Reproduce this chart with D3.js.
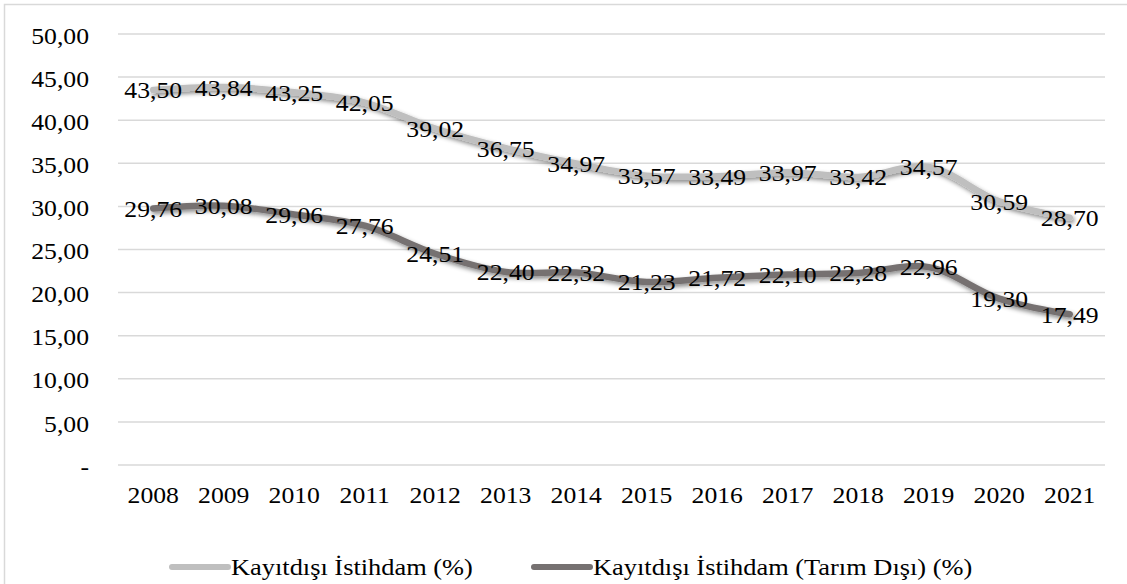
<!DOCTYPE html>
<html><head><meta charset="utf-8">
<script src="https://cdn.jsdelivr.net/npm/d3@7"></script>
<style>
html,body{margin:0;padding:0;background:#fff;}
svg{display:block;}
</style></head>
<body>
<svg id="chart" width="1127" height="584"></svg>
<script>
const years = ["2008","2009","2010","2011","2012","2013","2014","2015","2016","2017","2018","2019","2020","2021"];
const kayitdisi = [43.50,43.84,43.25,42.05,39.02,36.75,34.97,33.57,33.49,33.97,33.42,34.57,30.59,28.70];
const tarimDisi = [29.76,30.08,29.06,27.76,24.51,22.40,22.32,21.23,21.72,22.10,22.28,22.96,19.30,17.49];
const yTicks = [0,5,10,15,20,25,30,35,40,45,50];
const seriesNames = ["Kayıtdışı İstihdam (%)","Kayıtdışı İstihdam (Tarım Dışı) (%)"];

const FONT = '"Liberation Serif", "Times New Roman"';
const SX = 1.07; // horizontal stretch of the reference's glyphs
const svg = d3.select("#chart");
const W = 1127, H = 584;
const plot = {left:118, right:1105, top:34, bottom:465};
const FS = 24;

svg.append("rect").attr("x",4.5).attr("y",4.5).attr("width",W+10).attr("height",H+10)
  .attr("fill","#fff").attr("stroke","#d9d9d9").attr("stroke-width",1.5);

const defs = svg.append("defs");
const f = defs.append("filter").attr("id","shadow").attr("x","-10%").attr("y","-30%").attr("width","120%").attr("height","160%");
f.append("feDropShadow").attr("dx",1.5).attr("dy",2.5).attr("stdDeviation",2).attr("flood-color","#000").attr("flood-opacity",0.45);

const x = d3.scaleBand().domain(years).range([plot.left, plot.right]);
const y = d3.scaleLinear().domain([0,50]).range([plot.bottom, plot.top]);
const fmt = v => v === 0 ? "-" : v.toFixed(2).replace(".", ",");

svg.append("g").selectAll("line").data(yTicks).join("line")
  .attr("x1",plot.left).attr("x2",plot.right)
  .attr("y1",d=>y(d)).attr("y2",d=>y(d))
  .attr("stroke","#d9d9d9").attr("stroke-width",1.5);

const yAxis = d3.axisLeft(y).tickValues(yTicks).tickFormat(fmt).tickSize(0).tickPadding(0);
const gy = svg.append("g").attr("transform",`translate(89,0)`).call(yAxis);
gy.attr("font-family",null).attr("font-size",null);
gy.select(".domain").remove();
gy.selectAll("text").style("font-family",FONT).attr("font-size",FS).attr("fill","#000")
  .attr("x",0).attr("dy","0.38em").attr("transform",`scale(${SX},1)`);

const xAxis = d3.axisBottom(x).tickSize(0).tickPadding(0);
const gx = svg.append("g").attr("transform",`translate(0,${plot.bottom})`).call(xAxis);
gx.attr("font-family",null).attr("font-size",null);
gx.select(".domain").remove();
gx.selectAll("text").style("font-family",FONT).attr("font-size",FS).attr("fill","#000")
  .attr("y",21).attr("dy","0.71em").attr("transform",`scale(${SX},1)`);

const cx = d => x(d) + x.bandwidth()/2;
const line = d3.line().x((d,i)=>cx(years[i])).y(d=>y(d)).curve(d3.curveCatmullRom.alpha(0.5));

const series = [
  {name:seriesNames[0], values:kayitdisi, color:"#bfbfbf", legX:172},
  {name:seriesNames[1], values:tarimDisi, color:"#767171", legX:534}
];

series.forEach(s=>{
  svg.append("path").datum(s.values).attr("d",line)
    .attr("fill","none").attr("stroke",s.color).attr("stroke-width",6.5)
    .attr("stroke-linecap","round").attr("stroke-linejoin","round")
    .attr("filter","url(#shadow)");
});
series.forEach(s=>{
  svg.append("g").selectAll("text").data(s.values).join("text")
    .attr("transform",(d,i)=>`translate(${cx(years[i])},${y(d)}) scale(${SX},1)`)
    .attr("dy","0.35em").attr("text-anchor","middle")
    .style("font-family",FONT).attr("font-size",FS).attr("fill","#000")
    .text(d=>fmt(d));
});

series.forEach(s=>{
  svg.append("line").attr("x1",s.legX).attr("x2",s.legX+56).attr("y1",567).attr("y2",567)
    .attr("stroke",s.color).attr("stroke-width",6).attr("stroke-linecap","round");
  svg.append("text").attr("transform",`translate(${s.legX+59},567) scale(1.1,1)`).attr("dy","0.33em")
    .style("font-family",FONT).attr("font-size",24).attr("fill","#000").text(s.name);
});
</script>
</body></html>
